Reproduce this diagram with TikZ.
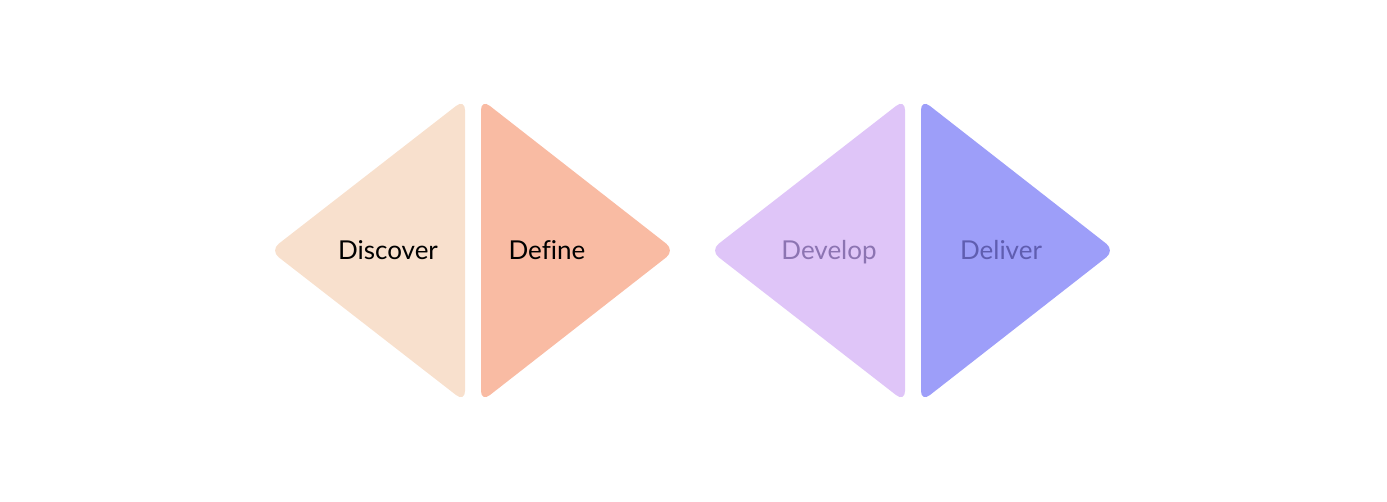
\documentclass[tikz,border=0pt]{standalone}
\usepackage{fontspec}
\setmainfont{Lato}[Ligatures=NoCommon]
\definecolor{cdisc}{HTML}{F8E0CD}
\definecolor{cdef}{HTML}{F9BBA3}
\definecolor{cdev}{HTML}{DFC5F8}
\definecolor{cdel}{HTML}{9D9EF9}
\definecolor{tdev}{HTML}{8C74B2}
\definecolor{tdel}{HTML}{5F5DB0}
\tikzset{
  tri/.style={rounded corners=11pt, draw=none},
  lbl/.style={font=\fontsize{26}{30}\selectfont, inner sep=0pt, anchor=base}
}
\begin{document}
\begin{tikzpicture}[x=1pt,y=-1pt]
\useasboundingbox (0,0) rectangle (1387,502);
\fill[tri, cdisc] (465,99) -- (465,402) -- (270,250.5) -- cycle;
\fill[tri, cdef] (481,99) -- (481,402) -- (675,250.5) -- cycle;
\fill[tri, cdev] (905,99) -- (905,402) -- (710,250.5) -- cycle;
\fill[tri, cdel] (921,99) -- (921,402) -- (1115,250.5) -- cycle;
\node[lbl, text=black] (disc) at (388,260) {Discover};
\node[lbl, text=black] (def) at (547,260) {Define};
\node[lbl, text=tdev] (dev) at (829,260) {Develop};
\node[lbl, text=tdel] (del) at (1001,260) {Deliver};
\end{tikzpicture}
\end{document}
